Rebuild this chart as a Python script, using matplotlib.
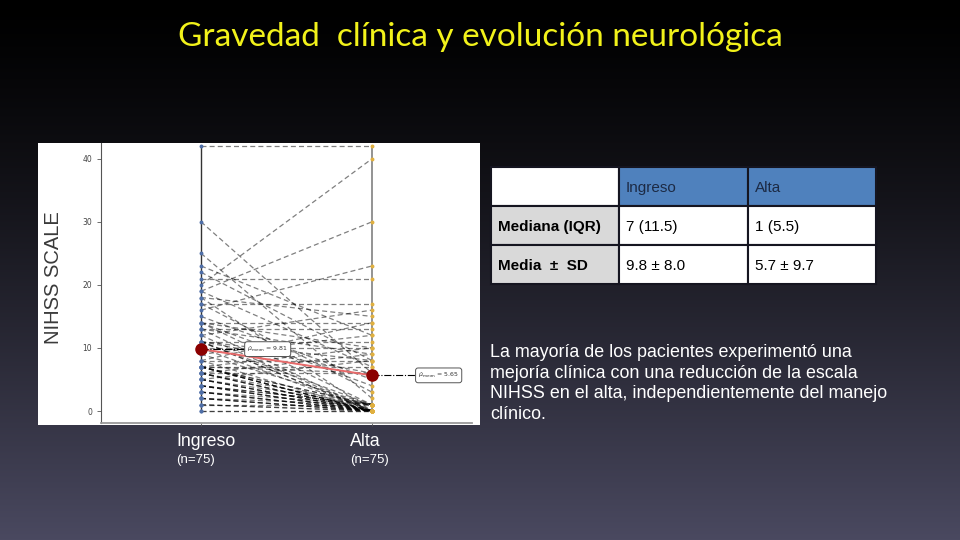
import numpy as np
import matplotlib
matplotlib.use("Agg")
import matplotlib.pyplot as plt
from matplotlib.patches import Rectangle

# paired NIHSS scores per patient (Ingreso -> Alta), n = 75
ingreso = [42, 30, 25, 23, 22, 21, 20, 19, 18, 19, 18, 17, 17, 16, 15, 14, 14, 13, 13,
           14, 14, 13, 12, 12, 11, 11, 11, 11, 11, 11, 10, 10, 9, 9, 8, 8, 8, 7,
           7, 7, 7, 7, 7, 7, 7, 7, 6, 6, 6, 6, 6, 6, 5, 5, 5, 5, 5,
           4, 4, 4, 4, 4, 3, 3, 3, 3, 2, 2, 2, 2, 1, 1, 1, 0, 0]
alta = [42, 6, 2, 12, 8, 21, 40, 30, 0, 7, 15, 17, 3, 23, 5, 14, 1, 13, 0,
        4, 10, 9, 16, 0, 11, 1, 0, 8, 6, 0, 10, 0, 12, 1, 8, 0, 14, 7,
        10, 0, 1, 0, 6, 0, 1, 0, 9, 0, 1, 0, 6, 0, 8, 0, 1, 0, 0,
        0, 1, 0, 0, 1, 0, 1, 0, 0, 0, 1, 0, 0, 0, 1, 0, 0, 0]
groups = ["Ingreso", "Alta"]
n_labels = ["(n=75)", "(n=75)"]
yticks = [0, 10, 20, 30, 40]

# summary table
col_headers = ["", "Ingreso", "Alta"]
row_headers = ["Mediana (IQR)", "Media  \u00b1  SD"]
cells = [["7 (11.5)", "1 (5.5)"],
         ["9.8 \u00b1 8.0", "5.7 \u00b1 9.7"]]

title = "Gravedad  clínica y evolución neurológica"
note = ("La mayoría de los pacientes experimentó una\n"
        "mejoría clínica con una reducción de la escala\n"
        "NIHSS en el alta, independientemente del manejo\n"
        "clínico.")

W, H = 960, 540
fig = plt.figure(figsize=(9.6, 5.4), dpi=100)

# slide background: black at the top, slate blue-grey at the bottom
bg = fig.add_axes([0, 0, 1, 1], zorder=0)
t = (np.linspace(0, 1, 540) ** 1.3)[:, None, None]
bottom = np.array([74, 73, 96]) / 255.0
grad = t * bottom[None, None, :]
bg.imshow(grad, aspect="auto", extent=[0, W, H, 0])
bg.set_xlim(0, W)
bg.set_ylim(H, 0)
bg.axis("off")

# white panel behind the chart
bg.add_patch(Rectangle((38, 143), 442, 282, facecolor="white", edgecolor="none", zorder=2))

fig.text(0.5, 1 - 37 / H, title, ha="center", va="center", color="#f2f21a",
         fontsize=24, family=["Lato", "DejaVu Sans"])

# ---- paired plot ----
ax = fig.add_axes([101 / W, 1 - 423 / H, (472 - 101) / W, (423 - 143) / H], zorder=3)
ax.patch.set_alpha(0)
x1, x2 = 1, 2
for a, b in zip(ingreso, alta):
    ax.plot([x1, x2], [a, b], color="black", alpha=0.5, lw=0.9, ls=(0, (4, 2.5)), zorder=2)

ax.vlines(x1, min(ingreso), max(ingreso), color="#333333", lw=1.0, zorder=1)
ax.vlines(x2, min(alta), max(alta), color="#808080", lw=1.2, zorder=1)
ax.plot([x1] * len(ingreso), ingreso, "o", ms=1.8, color="#4f6fa8", zorder=3)
ax.plot([x2] * len(alta), alta, "o", ms=1.8, color="#e0b040", zorder=3)

m1, m2 = np.mean(ingreso), np.mean(alta)
ax.plot([x1, x2], [m1, m2], color="#e86a6a", lw=1.4, zorder=4)
ax.plot([x1, x2], [m1, m2], "o", ms=8, color="#8b0000", zorder=5, ls="none")
for xm, m in [(x1, m1), (x2, m2)]:
    ax.plot([xm, xm + 0.27], [m, m], color="black", lw=0.8, ls="-.", zorder=4)
    ax.text(xm + 0.39, m, r"$\hat{\mu}_{\mathrm{mean}}$ = " + f"{m:.2f}", fontsize=4.5,
            ha="center", va="center", color="#333333", zorder=6,
            bbox=dict(boxstyle="round,pad=0.4", facecolor="white", edgecolor="#555555", lw=0.7))

ax.set_xlim(0.415, 2.585)
ax.set_ylim(-1.9, 42.5)
ax.set_yticks(yticks)
ax.set_xticks([x1, x2])
ax.set_xticklabels([])
ax.tick_params(axis="y", labelsize=5.5, labelcolor="#444444", color="#555555", length=3, width=0.6)
ax.tick_params(axis="x", color="#555555", length=2, width=0.6)
for s in ["top", "right"]:
    ax.spines[s].set_visible(False)
ax.spines["left"].set_color("#555555")
ax.spines["left"].set_linewidth(0.8)
ax.spines["bottom"].set_color("#9a9a9a")
ax.spines["bottom"].set_linewidth(1.3)
ax.set_ylabel("NIHSS SCALE", fontsize=14.5, color="#3a3a3a", family="Liberation Sans")
ax.yaxis.set_label_coords(-0.102, 0.518)

# group labels under the panel
for xl, g, n in zip([176, 350], groups, n_labels):
    bg.text(xl, 441, g, color="white", fontsize=12.8, family="Liberation Sans", ha="left", va="center", zorder=5)
    bg.text(xl, 460, n, color="white", fontsize=9.5, family="Liberation Sans", ha="left", va="center", zorder=5)

# ---- table ----
col_x = [491, 619, 748, 876]
row_y = [167, 206, 245, 284]
for r in range(3):
    for c in range(3):
        if r == 0:
            fc = "white" if c == 0 else "#4f81bd"
        else:
            fc = "#d9d9d9" if c == 0 else "white"
        bg.add_patch(Rectangle((col_x[c], row_y[r]), col_x[c + 1] - col_x[c], row_y[r + 1] - row_y[r],
                               facecolor=fc, edgecolor="#151520", lw=1.5, zorder=3))
        if r == 0:
            txt, col, wt = col_headers[c], "#1c2a44", "normal"
        elif c == 0:
            txt, col, wt = row_headers[r - 1], "black", "bold"
        else:
            txt, col, wt = cells[r - 1][c - 1], "black", "normal"
        bg.text(col_x[c] + 7, (row_y[r] + row_y[r + 1]) / 2, txt, color=col, fontsize=11,
                fontweight=wt, family="Liberation Sans", ha="left", va="center_baseline", zorder=4)

bg.text(490, 344, note, color="white", fontsize=12.9, family="Liberation Sans",
        ha="left", va="top", linespacing=1.28, zorder=5)

fig.savefig("out.png", dpi=100)
